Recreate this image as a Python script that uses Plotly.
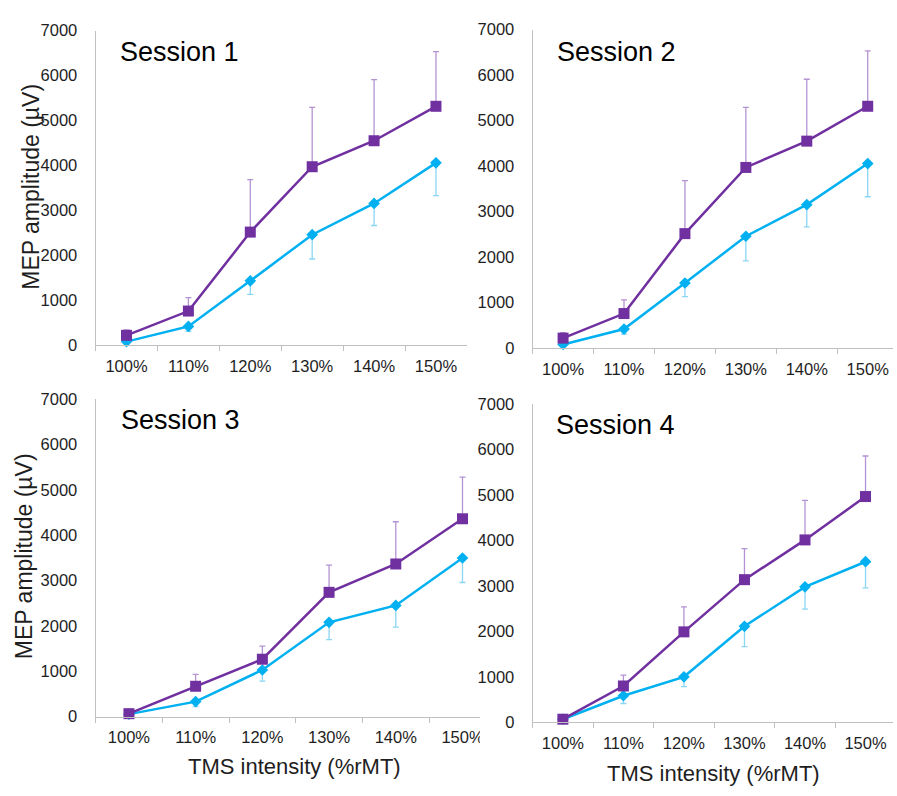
import plotly.graph_objects as go

# TMS intensity categories (% of resting motor threshold)
intensities = ["100%", "110%", "120%", "130%", "140%", "150%"]

# Mean MEP amplitude (µV) and error-bar lengths per session
s1_purple = [220, 760, 2516, 3970, 4548, 5314]
s1_purple_err = [120, 300, 1165, 1320, 1360, 1215]
s1_cyan = [80, 419, 1432, 2458, 3153, 4056]
s1_cyan_err = [40, 110, 300, 540, 490, 730]

s2_purple = [220, 760, 2516, 3970, 4548, 5314]
s2_purple_err = [120, 300, 1165, 1320, 1360, 1215]
s2_cyan = [80, 419, 1432, 2458, 3153, 4056]
s2_cyan_err = [40, 110, 300, 540, 490, 730]

s3_purple = [65, 669, 1265, 2739, 3364, 4360]
s3_purple_err = [40, 260, 290, 600, 930, 920]
s3_cyan = [55, 331, 1028, 2078, 2451, 3496]
s3_cyan_err = [30, 110, 245, 380, 480, 540]

s4_purple = [72, 802, 1991, 3138, 4011, 4964]
s4_purple_err = [30, 240, 550, 680, 870, 890]
s4_cyan = [72, 587, 1003, 2113, 2980, 3532]
s4_cyan_err = [30, 170, 215, 445, 490, 575]

session_titles = ["Session 1", "Session 2", "Session 3", "Session 4"]
y_title = "MEP amplitude (µV)"
x_title = "TMS intensity (%rMT)"

W, H = 897, 796
FONT = "Liberation Sans, Arial, sans-serif"
PURPLE = "#7030A0"
PURPLE_ERR = "#B493D3"
CYAN = "#00B0F0"
CYAN_ERR = "#8AD6F5"
AXIS = "#C0C0C0"
TEXT = "#1e1e1e"


def px_x(v):
    return v / W


def px_y(v):
    return 1 - v / H


# pixel boxes: (left, right, y of 0, y of 7000, x-range end)
panels = [
    (96, 469, 344, 22, 5.5),
    (535, 897, 347, 21, 5.415),
    (96, 482, 724, 399, 5.26),
    (535, 897, 730, 404, 5.454),
]
series = [
    (s1_purple, s1_purple_err, s1_cyan, s1_cyan_err),
    (s2_purple, s2_purple_err, s2_cyan, s2_cyan_err),
    (s3_purple, s3_purple_err, s3_cyan, s3_cyan_err),
    (s4_purple, s4_purple_err, s4_cyan, s4_cyan_err),
]

fig = go.Figure()
layout = {}
for i, ((left, right, y0, y7, xend), (pv, pe, cv, ce)) in enumerate(zip(panels, series)):
    n = "" if i == 0 else str(i + 1)
    xa, ya = "x" + n, "y" + n
    fig.add_trace(go.Scatter(
        x=intensities, y=cv, xaxis=xa, yaxis=ya, mode="lines+markers",
        line=dict(color=CYAN, width=2.5),
        marker=dict(symbol="diamond", size=9, color=CYAN),
        error_y=dict(type="data", symmetric=False, array=[0] * len(ce), arrayminus=ce,
                     color=CYAN_ERR, thickness=1.3, width=3),
        showlegend=False, cliponaxis=False,
    ))
    fig.add_trace(go.Scatter(
        x=intensities, y=pv, xaxis=xa, yaxis=ya, mode="lines+markers",
        line=dict(color=PURPLE, width=2.5),
        marker=dict(symbol="square", size=11, color=PURPLE),
        error_y=dict(type="data", symmetric=False, array=pe, arrayminus=[0] * len(pe),
                     color=PURPLE_ERR, thickness=1.3, width=3),
        showlegend=False, cliponaxis=False,
    ))
    layout["xaxis" + n] = dict(
        domain=[px_x(left), px_x(right)], anchor=ya, type="category",
        categoryorder="array", categoryarray=intensities,
        range=[-0.5, xend], showline=True, linecolor=AXIS, linewidth=1,
        ticks="outside", tickson="boundaries", ticklen=5, tickcolor=AXIS,
        showgrid=False, zeroline=False, ticklabelstandoff=6,
        tickfont=dict(family=FONT, size=16.5, color=TEXT),
    )
    layout["yaxis" + n] = dict(
        domain=[px_y(y0), px_y(y7)], anchor=xa, range=[0, 7000], dtick=1000,
        showline=True, linecolor=AXIS, linewidth=1, ticks="", showgrid=False,
        zeroline=False, ticklabelstandoff=14,
        tickfont=dict(family=FONT, size=16.5, color=TEXT),
    )

annotations = []
title_pos = [(119, 44), (557, 44), (120, 421), (556, 426)]
for t, (x, y) in zip(session_titles, title_pos):
    annotations.append(dict(
        text=t, x=px_x(x), y=px_y(y), xref="paper", yref="paper",
        xanchor="left", yanchor="middle", showarrow=False,
        font=dict(family=FONT, size=27, color="#000000"),
    ))
for x, y in [(31, 182), (24, 560)]:
    annotations.append(dict(
        text=y_title, x=px_x(x), y=px_y(y), xref="paper", yref="paper",
        xanchor="center", yanchor="middle", textangle=-90, showarrow=False,
        font=dict(family=FONT, size=23, color=TEXT),
    ))
for x, y in [(296, 775), (717, 782)]:
    annotations.append(dict(
        text=x_title, x=px_x(x), y=px_y(y), xref="paper", yref="paper",
        xanchor="center", yanchor="middle", showarrow=False,
        font=dict(family=FONT, size=22, color=TEXT),
    ))

# the lower-left panel is trimmed on its right edge
shapes = [dict(type="rect", xref="paper", yref="paper", layer="above",
               x0=px_x(482), x1=px_x(498), y0=px_y(738), y1=px_y(766),
               fillcolor="white", line=dict(width=0))]

fig.update_layout(
    width=W, height=H, margin=dict(l=0, r=0, t=0, b=0),
    paper_bgcolor="white", plot_bgcolor="white",
    annotations=annotations, shapes=shapes, **layout,
)

fig.write_html("out.html")
